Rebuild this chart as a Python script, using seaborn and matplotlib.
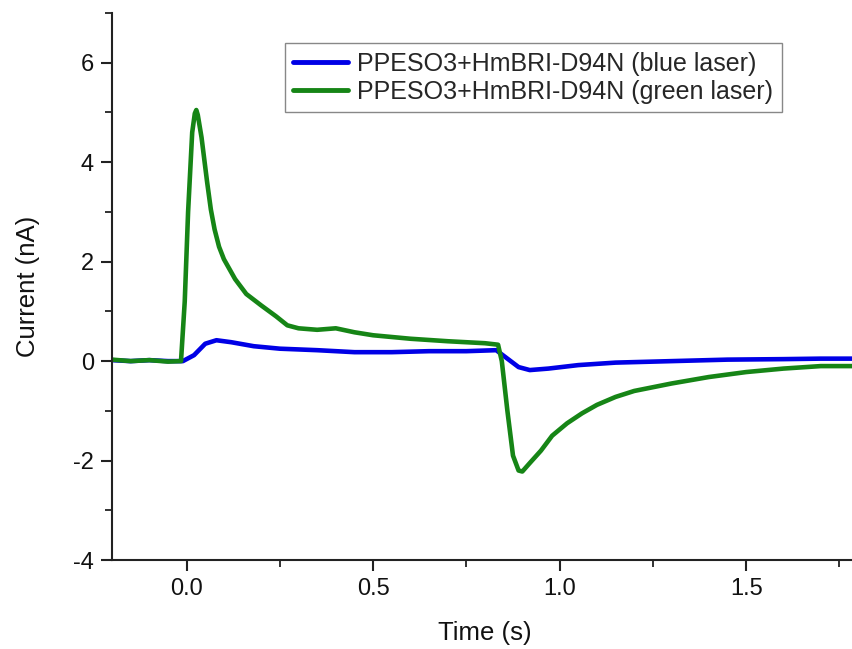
import numpy as np
import pandas as pd
import seaborn as sns
import matplotlib.pyplot as plt
from matplotlib.ticker import MultipleLocator

# values
blue_t = [-0.2, -0.15, -0.1, -0.05, -0.01, 0.02, 0.05, 0.08, 0.12, 0.18, 0.25, 0.35,
          0.45, 0.55, 0.65, 0.75, 0.83, 0.86, 0.89, 0.92, 0.97, 1.05, 1.15, 1.3,
          1.45, 1.6, 1.7, 1.785]
blue_i = [0.02, 0.0, 0.02, 0.0, 0.0, 0.12, 0.35, 0.42, 0.38, 0.3, 0.25, 0.22,
          0.18, 0.18, 0.2, 0.2, 0.22, 0.05, -0.12, -0.18, -0.15, -0.08, -0.03, 0.0,
          0.03, 0.04, 0.05, 0.05]

green_t = [-0.2, -0.15, -0.1, -0.05, -0.015, -0.005, 0.004, 0.015, 0.022, 0.026, 0.03,
           0.04, 0.055, 0.065, 0.075, 0.087, 0.1, 0.13, 0.16, 0.2, 0.24, 0.27, 0.3,
           0.35, 0.4, 0.45, 0.5, 0.6, 0.7, 0.8, 0.835, 0.845, 0.86, 0.875, 0.89, 0.9,
           0.92, 0.95, 0.98, 1.02, 1.06, 1.1, 1.15, 1.2, 1.3, 1.4, 1.5, 1.6, 1.7, 1.785]
green_i = [0.03, 0.0, 0.02, -0.01, 0.0, 1.2, 3.0, 4.6, 4.98, 5.05, 4.95,
           4.5, 3.6, 3.05, 2.65, 2.3, 2.05, 1.65, 1.35, 1.12, 0.9, 0.72, 0.66,
           0.63, 0.66, 0.58, 0.52, 0.45, 0.4, 0.36, 0.33, 0.0, -1.0, -1.9, -2.2, -2.22,
           -2.05, -1.8, -1.5, -1.25, -1.05, -0.88, -0.72, -0.6, -0.45, -0.32, -0.22,
           -0.15, -0.1, -0.1]

labels = ["PPESO3+HmBRI-D94N (blue laser)", "PPESO3+HmBRI-D94N (green laser)"]
colors = ["#0000E6", "#168516"]

df = pd.concat([
    pd.DataFrame({"t": blue_t, "i": blue_i, "series": labels[0]}),
    pd.DataFrame({"t": green_t, "i": green_i, "series": labels[1]}),
])

sns.set_style("ticks")
plt.rcParams["font.family"] = ["Liberation Sans", "DejaVu Sans"]
plt.rcParams["axes.unicode_minus"] = False

fig = plt.figure(figsize=(8.53, 6.49), dpi=100)
ax = fig.add_axes([0.1313, 0.1371, 0.8746, 0.8428])

sns.lineplot(data=df, x="t", y="i", hue="series", palette=colors, sort=False,
             linewidth=3.3, ax=ax, estimator=None)

ax.set_xlim(-0.2, 1.8)
ax.set_ylim(-4, 7)
ax.xaxis.set_major_locator(MultipleLocator(0.5))
ax.xaxis.set_minor_locator(MultipleLocator(0.25))
ax.yaxis.set_minor_locator(MultipleLocator(1))
ax.set_yticks([-4, -2, 0, 2, 4, 6])
ax.xaxis.set_major_formatter(plt.FuncFormatter(lambda v, p: f"{v:.1f}"))

for s in ["top", "right"]:
    ax.spines[s].set_visible(False)
for s in ["left", "bottom"]:
    ax.spines[s].set_linewidth(1.5)
    ax.spines[s].set_color("#222222")
ax.tick_params(which="major", length=8, width=1.5, labelsize=17, color="#222222",
               labelcolor="#111111", pad=5)
ax.tick_params(which="minor", length=5, width=1.3, color="#222222")

ax.set_xlabel("Time (s)", fontsize=18.5, labelpad=15, color="#111111")
ax.set_ylabel("Current (nA)", fontsize=18.5, labelpad=24, color="#111111")

leg = ax.legend(loc="upper right", bbox_to_anchor=(0.898, 0.945), borderaxespad=0,
                fontsize=18, handlelength=2.2, handletextpad=0.35, borderpad=0.35,
                labelspacing=0.15, fancybox=False, framealpha=1, edgecolor="#888888")
for h in leg.legend_handles:
    h.set_linewidth(3.5)

fig.savefig("out.png", dpi=100)
